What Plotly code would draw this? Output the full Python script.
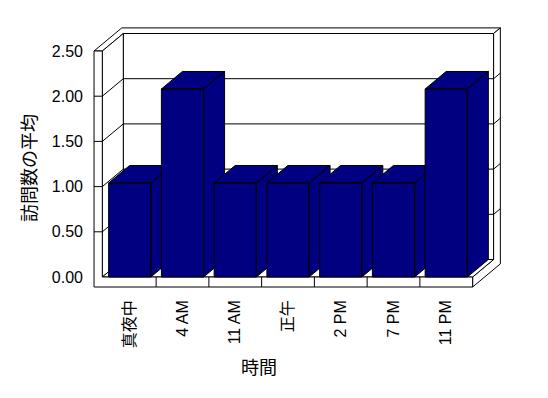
import plotly.graph_objects as go

# ---- data ----
categories = ["真夜中", "4 AM", "11 AM", "正午", "2 PM", "7 PM", "11 PM"]
values = [1.04, 2.08, 1.04, 1.04, 1.04, 1.04, 2.08]
y_ticks = [0, 0.5, 1.0, 1.5, 2.0, 2.5]
y_tick_labels = ["0.00", "0.50", "1.00", "1.50", "2.00", "2.50"]
x_title = "時間"
y_title = "訪問数の平均"

# ---- pseudo-3D geometry (in axis units) ----
BAR_W = 0.8
DX, DY = 0.398, 0.1936      # projection of one unit of depth
Z_BACK = 1.32               # back face of the back wall
Y_TOP = y_ticks[-1]
FLOOR_T = 0.1106
X_IN = -0.52
X_OUT = X_IN - 0.157
X_R = len(categories) - 0.5
NAVY = "#000080"
FONT = "Liberation Sans, Arial, Noto Sans CJK JP, sans-serif"

W, H = 548, 398
L, R, T, B = 90, 503, 24, 290            # plot area in pixels
PX_PER_X, X0_PX = 52.75, 129.75
PX_PER_Y, Y0_PX = 90.4, 277
x_range = [(L - X0_PX) / PX_PER_X, (R - X0_PX) / PX_PER_X]
y_range = [(Y0_PX - B) / PX_PER_Y, (Y0_PX - T) / PX_PER_Y]


def P(x, y, z):
    return x + DX * z, y + DY * z


def poly_trace(polys, fill, lw=1):
    xs, ys = [], []
    for pts in polys:
        pp = [P(*p) for p in pts]
        pp.append(pp[0])
        xs += [q[0] for q in pp] + [None]
        ys += [q[1] for q in pp] + [None]
    return go.Scatter(x=xs, y=ys, mode="lines", fill="toself" if fill else None,
                      fillcolor=fill, line=dict(color="black", width=lw),
                      hoverinfo="skip", showlegend=False)


def line_trace(lines):
    xs, ys = [], []
    for pts in lines:
        pp = [P(*p) for p in pts]
        xs += [q[0] for q in pp] + [None]
        ys += [q[1] for q in pp] + [None]
    return go.Scatter(x=xs, y=ys, mode="lines", line=dict(color="black", width=1),
                      hoverinfo="skip", showlegend=False)


traces = []
# back wall front face
traces.append(poly_trace([[(X_IN, 0, 1), (X_R, 0, 1), (X_R, Y_TOP, 1), (X_IN, Y_TOP, 1)]], "white"))
# top of left + back walls (L shape)
traces.append(poly_trace([[(X_OUT, Y_TOP, 0), (X_IN, Y_TOP, 0), (X_IN, Y_TOP, 1), (X_R, Y_TOP, 1),
                           (X_R, Y_TOP, Z_BACK), (X_OUT, Y_TOP, Z_BACK)]], "white"))
# right side of back wall + floor (L shape)
traces.append(poly_trace([[(X_R, 0, 0), (X_R, 0, 1), (X_R, Y_TOP, 1), (X_R, Y_TOP, Z_BACK),
                           (X_R, -FLOOR_T, Z_BACK), (X_R, -FLOOR_T, 0)]], "white"))
# left wall inner face
traces.append(poly_trace([[(X_IN, 0, 0), (X_IN, Y_TOP, 0), (X_IN, Y_TOP, 1), (X_IN, 0, 1)]], "white"))
# floor top
traces.append(poly_trace([[(X_IN, 0, 0), (X_R, 0, 0), (X_R, 0, 1), (X_IN, 0, 1)]], "white"))
# front face of left wall + floor
traces.append(poly_trace([[(X_OUT, Y_TOP, 0), (X_IN, Y_TOP, 0), (X_IN, 0, 0), (X_R, 0, 0),
                           (X_R, -FLOOR_T, 0), (X_OUT, -FLOOR_T, 0)]], "white"))
# gridlines wrapping the walls
grid = []
for yv in y_ticks[1:-1]:
    grid.append([(X_OUT, yv, 0), (X_IN, yv, 0), (X_IN, yv, 1), (X_R, yv, 1), (X_R, yv, Z_BACK)])
traces.append(line_trace(grid))
# category tick marks on floor front
traces.append(line_trace([[(i + 0.5, 0, 0), (i + 0.5, -FLOOR_T, 0)] for i in range(len(categories) - 1)]))

# bars, drawn left to right
for i, v in enumerate(values):
    xl, xr = i - BAR_W / 2, i + BAR_W / 2
    front = [(xl, 0, 0), (xr, 0, 0), (xr, v, 0), (xl, v, 0)]
    top = [(xl, v, 0), (xr, v, 0), (xr, v, 1), (xl, v, 1)]
    side = [(xr, 0, 0), (xr, 0, 1), (xr, v, 1), (xr, v, 0)]
    traces.append(poly_trace([side, top, front], NAVY))

fig = go.Figure(traces)


def px2paper_x(px):
    return (px - L) / (R - L)


def px2paper_y(py):
    return (B - py) / (B - T)


fig.update_layout(
    width=W, height=H, autosize=False,
    margin=dict(l=L, r=W - R, t=T, b=H - B, pad=0),
    paper_bgcolor="white", plot_bgcolor="white",
    font=dict(family=FONT, size=16, color="black"),
    xaxis=dict(range=x_range, tickmode="array", tickvals=list(range(len(categories))),
               ticktext=categories, tickangle=-90, showgrid=False, zeroline=False,
               showline=False, ticks="", ticklabelstandoff=6, fixedrange=True),
    yaxis=dict(range=y_range, tickmode="array", tickvals=y_ticks, ticktext=y_tick_labels,
               showgrid=False, zeroline=False, showline=False, ticks="",
               ticklabelstandoff=6, fixedrange=True),
    annotations=[
        dict(text=x_title, xref="paper", yref="paper", x=px2paper_x(259), y=px2paper_y(368),
             showarrow=False, font=dict(size=18, family=FONT), xanchor="center", yanchor="middle"),
        dict(text=y_title, xref="paper", yref="paper", x=px2paper_x(30), y=px2paper_y(168),
             showarrow=False, textangle=-90, font=dict(size=18, family=FONT),
             xanchor="center", yanchor="middle"),
    ],
)

fig.write_html("out.html")
